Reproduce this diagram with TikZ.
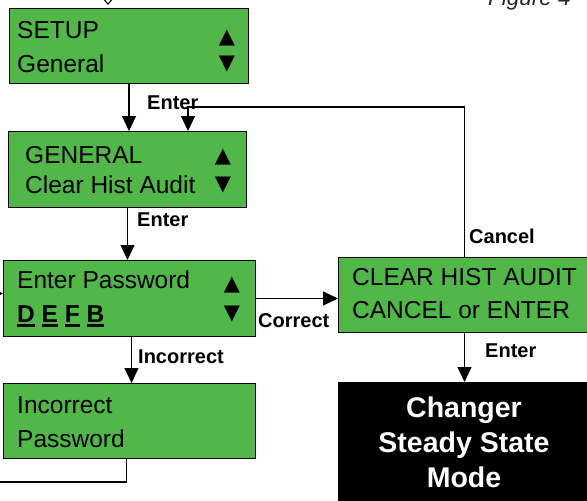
\documentclass[tikz,border=0pt]{standalone}
\usepackage{fontspec}
\setmainfont{Liberation Sans}
\newfontfamily\symfont{DejaVu Sans}
\usetikzlibrary{arrows.meta}
\definecolor{lcdgreen}{RGB}{80,183,72}
\newcommand\ulbox[1]{\setbox0\hbox{#1}\rlap{\rule[-4.5pt]{\wd0}{2.2pt}}\box0\relax}
\begin{document}
\begin{tikzpicture}[x=1pt,y=-1pt,
 box/.style={draw=black, fill=lcdgreen, line width=1pt, inner sep=0, anchor=north west},
 txt/.style={anchor=base west, inner sep=0, font=\fontsize{24.5}{29}\selectfont},
 tri/.style={anchor=center, inner sep=0, font=\symfont\fontsize{21}{24}\selectfont},
 lbl/.style={anchor=base west, inner sep=0, font=\bfseries\fontsize{20}{24}\selectfont},
 big/.style={anchor=base, inner sep=0, text=white, font=\bfseries\fontsize{28.5}{34}\selectfont},
 con/.style={draw=black, line width=1.1pt},
 arr/.style={con, -{Triangle[length=15pt,width=14pt]}},
]
\useasboundingbox (0,0) rectangle (587,501);
\clip (0,0) rectangle (587,501);

% boxes
\node[box, minimum width=239pt, minimum height=75pt] (setup) at (9,8) {};
\node[box, minimum width=238pt, minimum height=76pt] (general) at (8,131) {};
\node[box, minimum width=252pt, minimum height=76pt] (pass) at (3,260) {};
\node[box, minimum width=252pt, minimum height=75pt] (incp) at (3,383) {};
\node[box, minimum width=252pt, minimum height=75pt] (clear) at (338,257) {};
\node[box, fill=black, minimum width=252pt, minimum height=140pt] (mode) at (338,382) {};

% box texts
\node[txt] (t1a) at (17,38) {SETUP};
\node[txt] (t1b) at (17,72) {General};
\node[tri] (u1) at (227,38) {▲};
\node[tri] (d1) at (227,64) {▼};

\node[txt] (t2a) at (25,163) {GENERAL};
\node[txt] (t2b) at (25,193) {Clear Hist Audit};
\node[tri] (u2) at (223,157) {▲};
\node[tri] (d2) at (223,185) {▼};

\node[txt] (t3a) at (17,288) {Enter Password};
\node[txt, font=\bfseries\fontsize{24.5}{29}\selectfont] (t3b) at (17,322) {\ulbox{D} \ulbox{E} \ulbox{F} \ulbox{B}};
\node[tri] (u3) at (232,285) {▲};
\node[tri] (d3) at (232,314) {▼};

\node[txt] (t4a) at (17,413) {Incorrect};
\node[txt] (t4b) at (17,447) {Password};

\node[txt] (t5a) at (352,285) {CLEAR HIST AUDIT};
\node[txt] (t5b) at (352,318) {CANCEL or ENTER};

\node[big] (t6a) at (464,417) {Changer};
\node[big] (t6b) at (464,452) {Steady State};
\node[big] (t6c) at (464,487) {Mode};

\node[anchor=base west, inner sep=0, text=black!85, font=\itshape\fontsize{22.5}{26}\selectfont] (fig) at (488,5) {Figure 4};

% connectors
\coordinate (topin) at (108,-40);
\draw[con, shorten >=3pt, -{Triangle[open,length=12pt,width=20pt,fill=white]}] (topin) -- (topin |- setup.north);

\draw[arr] (setup.south) -- (setup.south |- general.north);
\coordinate (j) at (188,107);
\draw[arr] (clear.north) |- (j) -- (j |- general.north);
\draw[arr] (general.south) -- (general.south |- pass.north);
\draw[arr] (pass.east) -- (pass.east -| clear.west);
\draw[arr] ([xshift=2pt]pass.south) -- ([xshift=2pt]pass.south |- incp.north);
\coordinate (loopc) at (-10,482);
\draw[arr] ([xshift=-3pt]incp.south) |- (loopc) |- ([yshift=5pt]pass.west);
\draw[arr] (clear.south) -- (clear.south |- mode.north);

% labels
\node[lbl] (l1) at (147,109) {Enter};
\node[lbl] (l2) at (137,226) {Enter};
\node[lbl] (l3) at (258,327) {Correct};
\node[lbl] (l4) at (138,363) {Incorrect};
\node[lbl] (l5) at (469,243) {Cancel};
\node[lbl] (l6) at (485,357) {Enter};
\end{tikzpicture}
\end{document}
